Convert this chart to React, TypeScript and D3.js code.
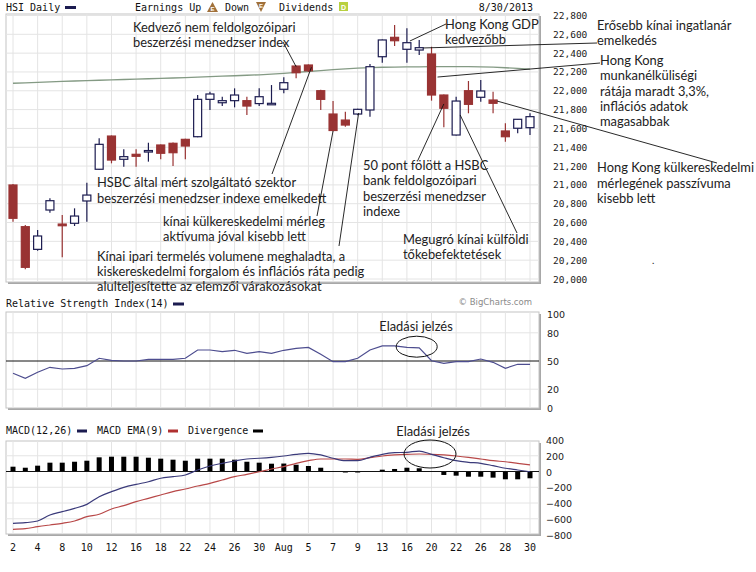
import React from 'react';
import * as d3 from 'd3';

const dayLabels = ["2","3","4","5","8","9","10","11","12","15","16","17","18","19","22","23","24","25","26","29","30","31","Aug","2","5","6","7","8","9","12","13","15","16","19","20","21","22","23","26","27","28","29","30"];

const openV  = [20999,20556,20315,20733,20584,20592,20829,21166,21519,21272,21325,21360,21424,21442,21484,21512,21909,21873,21895,21895,21864,21862,22016,22263,22274,22001,21753,21689,21753,21796,22362,22568,22441,22433,22391,21955,21530,22001,21931,21902,21573,21602,21608];
const highV  = [21010,20574,20520,20857,20680,20751,21023,21495,21525,21378,21378,21448,21430,21450,21490,21955,21990,21937,22026,21937,22026,22061,22143,22270,22280,22010,21891,21778,21810,22285,22545,22699,22664,22540,22468,21960,21937,22104,22115,21990,21654,21700,21761];
const lowV   = [20609,20103,20300,20704,20230,20563,20609,21160,21229,21193,21193,21247,21272,21201,21272,21505,21796,21838,21824,21743,21838,21860,21973,22133,22200,21796,21570,21618,21740,21725,22298,22476,22298,22380,21895,21612,21525,21761,21884,21761,21459,21548,21530];
const closeV = [20645,20124,20457,20832,20566,20669,20892,21431,21264,21300,21304,21365,21336,21342,21413,21909,21966,21895,21955,21838,21937,21867,22086,22192,22213,21909,21578,21636,21803,22256,22540,22532,22511,22458,21955,21814,21891,21856,21998,21867,21512,21697,21725];
const ma200  = [22080,22085,22090,22095,22100,22104,22108,22112,22116,22120,22124,22128,22132,22136,22140,22145,22150,22155,22160,22165,22170,22178,22186,22195,22205,22215,22225,22232,22240,22246,22250,22252,22254,22255,22256,22256,22256,22256,22255,22252,22245,22238,22230];

const rsiV = [36.9,31.6,38,43.3,41.5,42.2,45,52.9,50.7,50,50,51.8,51.8,51.8,52.9,61.7,61.7,59.9,61.4,58.2,59.9,58.2,61.4,63.5,64.5,57.1,49.3,49.3,52.9,61.7,66,66,64.5,64,50.3,47.5,49.3,49.3,52.1,48.6,42.2,46.5,46.5];

const macdV = [-658,-650,-629,-552,-510,-468,-417,-320,-256,-201,-163,-130,-86,-66,-44,19,70,104,133,159,168,180,197,218,231,210,168,137,137,180,218,239,244,260,218,175,137,117,104,74,41,19,-3];
const emaV  = [-734,-726,-701,-679,-658,-629,-574,-543,-476,-434,-383,-341,-298,-256,-222,-184,-150,-108,-66,-36,-3,32,61,104,137,159,159,159,155,175,197,210,218,222,218,210,197,180,159,137,124,104,83];
const divV  = [61,48,74,112,112,124,137,180,188,188,188,175,163,150,137,163,163,163,150,124,112,99,101,86,70,48,0,-10,-10,0,23,32,48,41,0,-44,-53,-66,-66,-78,-99,-99,-86];

const priceTicks = d3.range(20000, 22801, 200);
const rsiTicks = [0, 20, 50, 80, 100];
const macdTicks = d3.range(-800, 401, 200);

type Note = { idx: number; price: number; dx: number; ex: number; ey: number; tx: number; ty: number; lines: string[] };
const notes: Note[] = [
  { idx: 23, price: 22256, dx: 0, ex: 283, ey: 42, tx: 133, ty: 28, lines: ["Kedvező nem feldolgozóipari", "beszerzési menedzser index"] },
  { idx: 24, price: 22250, dx: 3, ex: 272, ey: 174, tx: 97, ty: 183.3, lines: ["HSBC által mért szolgáltató szektor", "beszerzési menedzser indexe emelkedett"] },
  { idx: 26, price: 21573, dx: 0, ex: 317, ey: 216, tx: 163, ty: 221.7, lines: ["kínai külkereskedelmi mérleg", "aktívuma jóval kisebb lett"] },
  { idx: 28, price: 21764, dx: 1, ex: 339, ey: 246, tx: 97, ty: 256.7, lines: ["Kínai ipari termelés volumene meghaladta, a", "kiskereskedelmi forgalom és inflációs ráta pedig", "alulteljesítette az elemzői várakozásokat"] },
  { idx: 35, price: 21860, dx: 0, ex: 418, ey: 160, tx: 363, ty: 166, lines: ["50 pont fölött a HSBC", "bank feldolgozóipari", "beszerzési menedzser", "indexe"] },
  { idx: 36, price: 21743, dx: 4, ex: 517, ey: 233, tx: 403, ty: 240, lines: ["Megugró kínai külföldi", "tőkebefektetések"] },
  { idx: 32, price: 22529, dx: 3, ex: 446, ey: 24, tx: 445, ty: 25, lines: ["Hong Kong GDP", "kedvezőbb"] },
  { idx: 33, price: 22455, dx: 4, ex: 597, ey: 43, tx: 597, ty: 26, lines: ["Erősebb kínai ingatlanár", "emelkedés"] },
  { idx: 34, price: 22146, dx: 6, ex: 600, ey: 63, tx: 600, ty: 61, lines: ["Hong Kong", "munkanélküliségi", "rátája maradt 3,3%,", "inflációs adatok", "magasabbak"] },
  { idx: 39, price: 21891, dx: 4, ex: 717, ey: 163, tx: 597, ty: 168.3, lines: ["Hong Kong külkereskedelmi", "mérlegének passzívuma", "kisebb lett"] },
];

const idx = dayLabels.map((_, i) => i);
const x = d3.scalePoint<number>().domain(idx).range([13, 530]);
const yP = d3.scaleLinear().domain([20000, 22800]).range([279, 15.5]);
const yR = d3.scaleLinear().domain([0, 100]).range([408, 314]);
const yM = d3.scaleLinear().domain([-800, 400]).range([534.5, 440]);

const MONO = "'DejaVu Sans Mono', monospace";
const ANN = "Lato, 'Noto Sans', sans-serif";
const GRID = "#e4e4e4";
const RED = "#993333";
const NAVY = "#1c1c50";
const ANN_SIZE = 12.9;

function Frame({ top, bottom }: { top: number; bottom: number }) {
  return (
    <g>
      <rect x={8} y={top + 2} width={533} height={bottom - top} fill="#a8a8a8" />
      <rect x={6} y={top} width={533} height={bottom - top} fill="#fff" stroke="#c4c4c4" strokeWidth={1} />
    </g>
  );
}

function VGrid({ top, bottom }: { top: number; bottom: number }) {
  return (
    <g>
      {idx.filter(i => i % 2 === 0).map(i => (
        <line key={i} x1={x(i)} x2={x(i)} y1={top} y2={bottom} stroke={GRID} />
      ))}
    </g>
  );
}

export default function App() {
  const maLine = d3.line<number>().x((_, i) => x(i)!).y(d => yP(d));
  const rsiLine = d3.line<number>().x((_, i) => x(i)!).y(d => yR(d));
  const mLine = d3.line<number>().x((_, i) => x(i)!).y(d => yM(d)).curve(d3.curveMonotoneX);
  const bw = 8;

  return (
    <svg width={756} height={572} style={{ position: 'absolute', left: 0, top: 0, background: '#fff' }}>
      <rect width={756} height={572} fill="#fff" />
      {/* Header */}
      <text x={6} y={11} fontFamily={MONO} fontSize={10} fill="#111">HSI Daily</text>
      <rect x={65} y={6} width={11} height={3} fill={NAVY} />
      <text x={135} y={11} fontFamily={MONO} fontSize={10} fill="#111">Earnings Up</text>
      <path d="M207,12 L212.5,2 L218,12 Z" fill="#a0703a" />
      <text x={212.5} y={11} fontFamily="sans-serif" fontSize={6} fill="#fff" textAnchor="middle" fontWeight="bold">E</text>
      <text x={225} y={11} fontFamily={MONO} fontSize={10} fill="#111">Down</text>
      <path d="M256,2 L266,2 L261,12 Z" fill="#a0703a" />
      <text x={261} y={8} fontFamily="sans-serif" fontSize={6} fill="#fff" textAnchor="middle" fontWeight="bold">E</text>
      <text x={279} y={11} fontFamily={MONO} fontSize={10} fill="#111">Dividends</text>
      <rect x={339} y={2} width={9} height={9} fill="#b8d040" />
      <text x={343.5} y={9.5} fontFamily="sans-serif" fontSize={7} fill="#fff" textAnchor="middle" fontWeight="bold">D</text>
      <text x={533} y={11} fontFamily={MONO} fontSize={10} fill="#111" textAnchor="end">8/30/2013</text>

      {/* Main panel */}
      <Frame top={14} bottom={282} />
      <VGrid top={14} bottom={282} />
      {priceTicks.map(t => (
        <line key={t} x1={6} x2={539} y1={yP(t)} y2={yP(t)} stroke={GRID} />
      ))}
      <path d={maLine(ma200) || ''} fill="none" stroke="#849a84" strokeWidth={1.3} />
      {idx.map(i => {
        const up = closeV[i] >= openV[i];
        const cx = x(i)!;
        const top = yP(Math.max(openV[i], closeV[i]));
        const bot = yP(Math.min(openV[i], closeV[i]));
        const col = up ? NAVY : RED;
        return (
          <g key={i}>
            <line x1={cx} x2={cx} y1={yP(highV[i])} y2={yP(lowV[i])} stroke={col} strokeWidth={1.2} />
            <rect x={cx - bw / 2} y={top} width={bw} height={Math.max(bot - top, 1.5)}
              fill={up ? '#fff' : RED} stroke={up ? NAVY : RED} strokeWidth={1.2} />
          </g>
        );
      })}
      {priceTicks.map(t => (
        <text key={t} x={553} y={yP(t) + 3.5} fontFamily={MONO} fontSize={9.5} fill="#222">{d3.format(",")(t)}</text>
      ))}

      {/* Annotations */}
      {notes.map((n, k) => (
        <g key={k}>
          <line x1={x(n.idx)! + n.dx} y1={yP(n.price)} x2={n.ex} y2={n.ey} stroke="#111" strokeWidth={0.9} />
          {n.lines.map((l, j) => (
            <text key={j} x={n.tx} y={n.ty + 4 + j * 15.3} fontFamily={ANN} fontSize={ANN_SIZE} fill="#222">{l}</text>
          ))}
        </g>
      ))}
      <text x={652} y={264} fontFamily={ANN} fontSize={10} fill="#222">.</text>

      {/* RSI panel */}
      <text x={6} y={307} fontFamily={MONO} fontSize={10} fill="#111">Relative Strength Index(14)</text>
      <rect x={173} y={302.5} width={11} height={3} fill={NAVY} />
      <text x={532} y={305} fontFamily="'DejaVu Sans', sans-serif" fontSize={8.5} fill="#8a8a8a" textAnchor="end">© BigCharts.com</text>
      <Frame top={312} bottom={408} />
      <VGrid top={312} bottom={408} />
      {[20, 80].map(t => (
        <line key={t} x1={6} x2={539} y1={yR(t)} y2={yR(t)} stroke={GRID} />
      ))}
      <line x1={6} x2={539} y1={yR(50)} y2={yR(50)} stroke="#111" strokeWidth={1} />
      <path d={rsiLine(rsiV) || ''} fill="none" stroke="#4d4d8f" strokeWidth={1.2} />
      {rsiTicks.map(t => (
        <text key={t} x={547} y={yR(t) + 4} fontFamily="'DejaVu Sans', sans-serif" fontSize={9.5} fill="#222">{t}</text>
      ))}
      <ellipse cx={416.7} cy={346.7} rx={20.5} ry={10.5} fill="none" stroke="#111" strokeWidth={1} />
      <text x={416} y={331} fontFamily={ANN} fontSize={ANN_SIZE} fill="#222" textAnchor="middle">Eladási jelzés</text>

      {/* MACD panel */}
      <text x={6} y={434} fontFamily={MONO} fontSize={10} fill="#111">MACD(12,26)</text>
      <rect x={77} y={429.5} width={10} height={3} fill={NAVY} />
      <text x={97} y={434} fontFamily={MONO} fontSize={10} fill="#111">MACD EMA(9)</text>
      <rect x={168} y={429.5} width={10} height={3} fill="#b03030" />
      <text x={188} y={434} fontFamily={MONO} fontSize={10} fill="#111">Divergence</text>
      <rect x={253} y={429.5} width={10} height={3} fill="#000" />
      <Frame top={441} bottom={534} />
      <VGrid top={441} bottom={534} />
      {macdTicks.filter(t => t !== 0 && t > -800 && t < 400).map(t => (
        <line key={t} x1={6} x2={539} y1={yM(t)} y2={yM(t)} stroke={GRID} />
      ))}
      {idx.map(i => (
        <rect key={i} x={x(i)! - 2.5} width={5}
          y={Math.min(yM(divV[i]), yM(0))}
          height={Math.max(Math.abs(yM(divV[i]) - yM(0)), divV[i] === 0 ? 0 : 1)} fill="#000" />
      ))}
      <line x1={6} x2={539} y1={yM(0)} y2={yM(0)} stroke="#111" strokeWidth={1} />
      <path d={mLine(emaV) || ''} fill="none" stroke="#b84848" strokeWidth={1.2} />
      <path d={mLine(macdV) || ''} fill="none" stroke="#3a3a7a" strokeWidth={1.2} />
      {macdTicks.map(t => (
        <text key={t} x={546} y={yM(t) + 4} fontFamily="'DejaVu Sans', sans-serif" fontSize={9.5} fill="#222">{d3.format("")(t).replace('-', '\u2212')}</text>
      ))}
      <ellipse cx={430} cy={454} rx={26} ry={14} fill="none" stroke="#111" strokeWidth={1} />
      <text x={433} y={436} fontFamily={ANN} fontSize={ANN_SIZE} fill="#222" textAnchor="middle">Eladási jelzés</text>

      {/* X axis labels */}
      {idx.filter(i => i % 2 === 0).map(i => (
        <text key={i} x={x(i)} y={551} fontFamily={MONO} fontSize={10} fill="#111" textAnchor="middle">{dayLabels[i]}</text>
      ))}
    </svg>
  );
}
